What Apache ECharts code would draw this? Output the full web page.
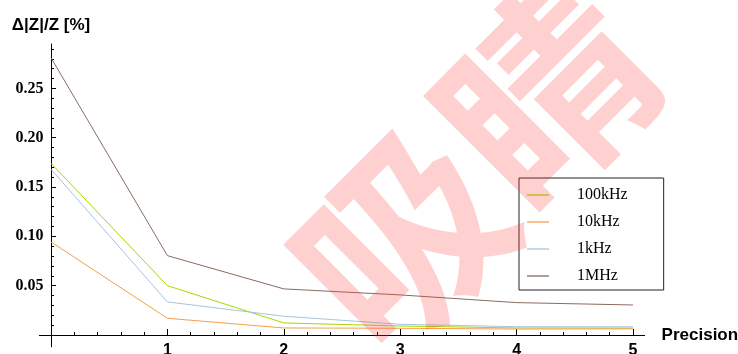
<!DOCTYPE html>
<html>
<head>
<meta charset="utf-8">
<script src="https://cdn.jsdelivr.net/npm/echarts@6/dist/echarts.min.js"></script>
<style>
  html, body { margin: 0; padding: 0; background: #fff; overflow: hidden; }
  #chart { width: 738px; height: 372px; }
</style>
</head>
<body>
<div id="chart"></div>
<script>
// Relative impedance error versus precision setting, one curve per frequency
const precision = [0, 1, 2, 3, 4, 5];
const seriesNames = ['100kHz', '10kHz', '1kHz', '1MHz'];
const err100kHz = [0.174, 0.050, 0.0122, 0.0091, 0.0071, 0.0070];
const err10kHz  = [0.0943, 0.0169, 0.0071, 0.0068, 0.0060, 0.0062];
const err1kHz   = [0.168, 0.0335, 0.0190, 0.0108, 0.0084, 0.0083];
const err1MHz   = [0.281, 0.0804, 0.0467, 0.0406, 0.0328, 0.0304];
const xTickLabels = [1, 2, 3, 4, 5];
const yTickLabels = [0.05, 0.10, 0.15, 0.20, 0.25];

const seriesValues = [err100kHz, err10kHz, err1kHz, err1MHz];
const seriesColors = ['#a8d800', '#f4a04a', '#a5c5e0', '#8b6b60'];

// minor tick positions between the labelled ticks
const xMinor = [];
for (let i = 0; i < 5; i++) for (let k = 1; k < 5; k++) xMinor.push(+(i + k * 0.2).toFixed(2));
const yMinor = [];
for (let v = 1; v <= 29; v++) if (v % 5 !== 0) yMinor.push(+(v * 0.01).toFixed(2));

// the canvas runs a little below the visible page so the tick numbers can sit at the bottom edge
const X_MIN = -0.1, X_MAX = 5.1, Y_MIN = -0.012, Y_MAX = 0.295;
const gridBox = { left: 39.4, right: 93.4, top: 44, bottom: 25.2, outerBoundsMode: 'none' };
// a band whose bottom edge is the y = 0 line, used only for the x tick numbers
const labelBand = { left: 39.4, right: 93.4, top: 44, bottom: 37, outerBoundsMode: 'none' };
const axisColor = '#000';

const chart = echarts.init(document.getElementById('chart'), null, { renderer: 'canvas' });

chart.setOption({
  animation: false,
  backgroundColor: '#fff',
  grid: [
    Object.assign({}, gridBox),
    Object.assign({}, gridBox),
    Object.assign({}, labelBand)
  ],
  xAxis: [
    {
      type: 'value', gridIndex: 0, min: X_MIN, max: X_MAX,
      axisLine: { onZero: true, lineStyle: { color: axisColor, width: 1 } },
      axisTick: { customValues: xTickLabels, inside: true, length: 6, lineStyle: { color: axisColor } },
      axisLabel: { show: false },
      splitLine: { show: false },
      name: 'Precision', nameLocation: 'end', nameGap: 17,
      nameTextStyle: { fontFamily: 'Liberation Sans', fontWeight: 'bold', fontSize: 17, color: '#000', verticalAlign: 'middle' }
    },
    {
      type: 'value', gridIndex: 1, min: X_MIN, max: X_MAX,
      axisLine: { show: false, onZero: true },
      axisTick: { customValues: xMinor, inside: true, length: 3, lineStyle: { color: axisColor } },
      axisLabel: { show: false },
      splitLine: { show: false }
    },
    {
      type: 'value', gridIndex: 2, min: X_MIN, max: X_MAX, position: 'bottom',
      axisLine: { show: false, onZero: false },
      axisTick: { show: false },
      axisLabel: {
        customValues: xTickLabels, margin: 8, color: '#000',
        fontFamily: 'Liberation Sans', fontWeight: 'bold', fontSize: 16
      },
      splitLine: { show: false }
    }
  ],
  yAxis: [
    {
      type: 'value', gridIndex: 0, min: Y_MIN, max: Y_MAX,
      axisLine: { show: true, onZero: true, lineStyle: { color: axisColor, width: 1 } },
      axisTick: { show: true, customValues: yTickLabels, inside: true, length: 5, lineStyle: { color: axisColor } },
      axisLabel: {
        customValues: yTickLabels, margin: -4, color: '#000',
        fontFamily: 'Liberation Serif', fontWeight: 'bold', fontSize: 16,
        formatter: v => v.toFixed(2)
      },
      splitLine: { show: false },
      name: 'Δ|Z|/Z [%]', nameLocation: 'end', nameGap: 10,
      nameTextStyle: { fontFamily: 'Liberation Sans', fontWeight: 'bold', fontSize: 17, color: '#000', align: 'center' }
    },
    {
      type: 'value', gridIndex: 1, min: Y_MIN, max: Y_MAX,
      axisLine: { show: false, onZero: true },
      axisTick: { show: true, customValues: yMinor, inside: true, length: 3, lineStyle: { color: axisColor } },
      axisLabel: { show: false },
      splitLine: { show: false }
    },
    {
      type: 'value', gridIndex: 2, min: 0, max: Y_MAX,
      show: false
    }
  ],
  legend: {
    orient: 'vertical',
    left: 519, top: 178,
    padding: [9, 36, 6, 8],
    itemGap: 11,
    itemWidth: 22, itemHeight: 2,
    icon: 'rect',
    borderColor: '#222', borderWidth: 1, borderRadius: 0,
    itemStyle: { opacity: 0.65 },
    textStyle: {
      fontFamily: 'Liberation Serif', fontSize: 16, color: '#000',
      lineHeight: 16, padding: [0, 0, 0, 23]
    },
    data: seriesNames
  },
  series: seriesNames.map((name, i) => ({
    name: name,
    type: 'line',
    xAxisIndex: 0, yAxisIndex: 0,
    data: precision.map((p, j) => [p, seriesValues[i][j]]),
    symbol: 'none',
    color: seriesColors[i],
    lineStyle: { width: 1, color: seriesColors[i] },
    z: 3
  })),
  graphic: [
    {
      type: 'text',
      x: 474, y: 165,
      rotation: Math.PI / 4,
      z: 100,
      silent: true,
      style: {
        text: '吸睛',
        font: 'bold 205px "Noto Sans CJK SC"',
        fill: 'rgba(250,60,60,0.24)',
        align: 'center',
        verticalAlign: 'middle'
      }
    }
  ]
});
</script>
</body>
</html>
